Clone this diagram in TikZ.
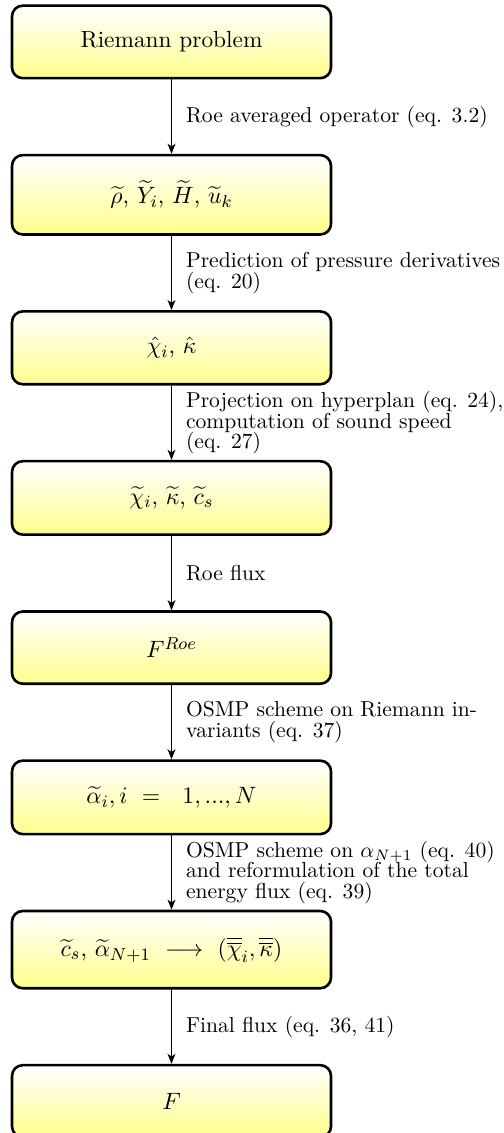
\documentclass[tikz,border=0pt]{standalone}
\usepackage{amsmath,amssymb}
\usetikzlibrary{positioning,arrows.meta}

\begin{document}
\begin{tikzpicture}[
    node distance=34.4pt,
    stepbox/.style={draw, line width=1.2pt, rounded corners=5pt, top color=white, bottom color=yellow!45,
        minimum width=147.7pt, minimum height=33.3pt, inner ysep=12pt, align=center,
        font=\fontsize{10.8}{13}\selectfont},
    lbl/.style={font=\fontsize{10}{9.6}\selectfont, align=left},
    flow/.style={-{Stealth[length=4.6pt,width=3.6pt,inset=1.2pt]}, thick}]
\useasboundingbox (-79.4pt,19.4pt) rectangle (153.9pt,-505.1pt);

% Steps of the scheme
\node[stepbox] (riemann) at (0,0) {Riemann problem};
\node[stepbox, below=of riemann] (roestate) {$\widetilde{\rho}$, $\widetilde{Y}_i$, $\widetilde{H}$, $\widetilde{u}_k$};
\node[stepbox, below=of roestate] (chihat) {$\hat{\chi}_i$, $\hat{\kappa}$};
\node[stepbox, below=of chihat] (chitilde) {$\widetilde{\chi}_i$, $\widetilde{\kappa}$, $\widetilde{c}_s$};
\node[stepbox, below=of chitilde] (froe) {$F^{Roe}$};
\node[stepbox, below=of froe] (alpha) {$\widetilde{\alpha}_i, i\ =\ \ 1, ..., N$};
\node[stepbox, below=of alpha] (energy) {$\widetilde{c}_s$, $\widetilde{\alpha}_{N+1}\ \longrightarrow\ (\overline{\overline{\chi}}_i, \overline{\overline{\kappa}})$};
\node[stepbox, below=of energy] (final) {$F$};

% Arrows and labels
\draw[flow] (riemann) -- node[midway, right=3pt, lbl] {Roe averaged operator (eq. 3.2)} (roestate);
\draw[flow] (roestate) -- node[midway, right=3pt, lbl] {Prediction of pressure derivatives\\(eq. 20)} (chihat);
\draw[flow] (chihat) -- node[midway, right=3pt, lbl] {Projection on hyperplan (eq. 24),\\computation of sound speed\\(eq. 27)} (chitilde);
\draw[flow] (chitilde) -- node[midway, right=3pt, lbl] {Roe flux} (froe);
\draw[flow] (froe) -- node[midway, right=3pt, lbl] {OSMP scheme on Riemann in-\\variants (eq. 37)} (alpha);
\draw[flow] (alpha) -- node[midway, right=3pt, lbl] {OSMP scheme on $\alpha_{N+1}$ (eq. 40)\\and reformulation of the total\\energy flux (eq. 39)} (energy);
\draw[flow] (energy) -- node[midway, right=3pt, lbl] {Final flux (eq. 36, 41)} (final);
\end{tikzpicture}
\end{document}
